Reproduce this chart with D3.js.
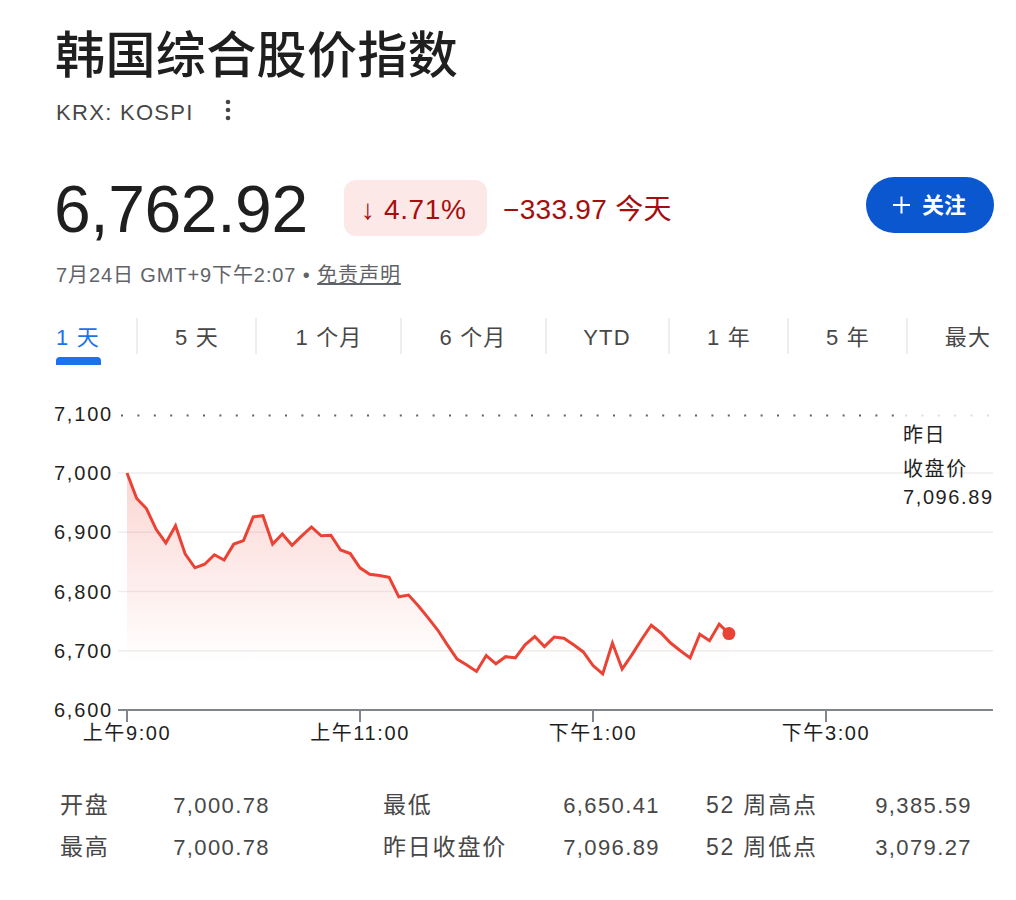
<!DOCTYPE html>
<html>
<head>
<meta charset="utf-8">
<script src="https://cdn.jsdelivr.net/npm/d3@7"></script>
<style>
  body { margin: 0; background: #fff; }
  svg { display: block; }
  text { font-family: Arial, "Liberation Sans", "Noto Sans CJK SC", sans-serif; }
</style>
</head>
<body>
<script>
// intraday points, 5 minute bars
var times = [
  "09:00","09:05","09:10","09:15","09:20","09:25","09:30","09:35","09:40","09:45","09:50","09:55",
  "10:00","10:05","10:10","10:15","10:20","10:25","10:30","10:35","10:40","10:45","10:50","10:55",
  "11:00","11:05","11:10","11:15","11:20","11:25","11:30","11:35","11:40","11:45","11:50","11:55",
  "12:00","12:05","12:10","12:15","12:20","12:25","12:30","12:35","12:40","12:45","12:50","12:55",
  "13:00","13:05","13:10","13:15","13:20","13:25","13:30","13:35","13:40","13:45","13:50","13:55",
  "14:00","14:05","14:10"
];
var prices = [
  7000, 6957, 6940, 6905, 6882, 6911, 6863, 6840, 6846, 6862, 6853, 6880,
  6886, 6926, 6928, 6880, 6897, 6878, 6894, 6909, 6894, 6895, 6870, 6864,
  6840, 6829, 6827, 6824, 6791, 6794, 6776, 6756, 6735, 6710, 6686, 6676,
  6665, 6692, 6678, 6690, 6688, 6710, 6724, 6707, 6723, 6721, 6710, 6698,
  6675, 6661, 6713, 6669, 6693, 6719, 6743, 6730, 6713, 6700, 6688, 6728,
  6717, 6745, 6729
];
var prevClose = 7096.89;
var yTicks = [6600, 6700, 6800, 6900, 7000, 7100];
var xTicks = ["09:00", "11:00", "13:00", "15:00"];
var xTickLabels = ["上午9:00", "上午11:00", "下午1:00", "下午3:00"];
var tabs = ["1 天", "5 天", "1 个月", "6 个月", "YTD", "1 年", "5 年", "最大"];
var statLabels = [["开盘", "最高"], ["最低", "昨日收盘价"], ["52 周高点", "52 周低点"]];
var statValues = [["7,000.78", "7,000.78"], ["6,650.41", "7,096.89"], ["9,385.59", "3,079.27"]];

var width = 1016, height = 900;
var parseTime = d3.timeParse("%H:%M");
var data = times.map(function (t, i) { return { t: parseTime(t), v: prices[i] }; });

var svg = d3.select("body").append("svg")
    .attr("width", width)
    .attr("height", height);

// header
svg.append("text").attr("x", 55).attr("y", 73)
    .style("font-family", "'Noto Sans CJK SC', sans-serif")
    .style("font-size", "50px").style("font-weight", 500).style("letter-spacing", "0.4px")
    .attr("fill", "#1f1f1f").text("韩国综合股价指数");

svg.append("text").attr("x", 56).attr("y", 120)
    .style("font-size", "22px").style("letter-spacing", "1.3px")
    .attr("fill", "#474747").text("KRX: KOSPI");
[102, 110, 118].forEach(function (cy) {
    svg.append("circle").attr("cx", 228).attr("cy", cy).attr("r", 2.3).attr("fill", "#444746");
});

svg.append("text").attr("x", 54).attr("y", 232)
    .style("font-size", "66px").style("letter-spacing", "-0.4px")
    .attr("fill", "#1f1f1f").text("6,762.92");

svg.append("rect").attr("x", 344).attr("y", 180).attr("width", 143).attr("height", 56)
    .attr("rx", 12).attr("fill", "#fce8e6");
svg.append("text").attr("x", 361).attr("y", 219)
    .style("font-size", "28px").style("letter-spacing", "0.6px")
    .attr("fill", "#a50e0e").text("↓ 4.71%");
svg.append("text").attr("x", 503).attr("y", 219)
    .style("font-size", "28px").style("letter-spacing", "0.3px")
    .attr("fill", "#a50e0e").text("−333.97 今天");

svg.append("rect").attr("x", 866).attr("y", 177).attr("width", 128).attr("height", 56)
    .attr("rx", 28).attr("fill", "#0b57d0");
svg.append("path").attr("d", "M893,205H910M901.5,196.5V213.5")
    .attr("stroke", "#fff").attr("stroke-width", 2);
svg.append("text").attr("x", 922).attr("y", 213)
    .style("font-size", "22px").style("font-weight", 700)
    .attr("fill", "#fff").text("关注");

var dateLine = svg.append("text").attr("x", 56).attr("y", 282)
    .style("font-size", "20px").style("letter-spacing", "0.9px").attr("fill", "#5f6368");
dateLine.append("tspan").text("7月24日 GMT+9下午2:07 • ");
dateLine.append("tspan").style("text-decoration", "underline").text("免责声明");

// range tabs
var tabX = [78, 197, 329, 473, 607, 729, 848, 968];
var sepX = [137, 256, 401, 546, 669, 788, 907];
svg.selectAll(".tab").data(tabs).join("text")
    .attr("x", function (d, i) { return tabX[i]; })
    .attr("y", 345)
    .attr("text-anchor", "middle")
    .style("font-size", "22px").style("letter-spacing", "1.2px")
    .attr("fill", function (d, i) { return i === 0 ? "#1a73e8" : "#474747"; })
    .text(function (d) { return d; });
svg.selectAll(".sep").data(sepX).join("line")
    .attr("x1", function (d) { return d; }).attr("x2", function (d) { return d; })
    .attr("y1", 318).attr("y2", 354)
    .attr("stroke", "#dadce0");
svg.append("path").attr("d", "M56,365V361a4,4 0 0 1 4,-4H97a4,4 0 0 1 4,4V365Z")
    .attr("fill", "#1a73e8");

// chart
var x = d3.scaleTime()
    .domain([parseTime("09:00"), parseTime("16:26")])
    .range([127, 993]);
var y = d3.scaleLinear()
    .domain([6600, 7100])
    .range([710, 413.75]);

var plotLeft = 118, plotRight = 993;

svg.append("g").selectAll("line")
    .data(yTicks.filter(function (d) { return d > 6600 && d < 7100; }))
    .join("line")
    .attr("x1", plotLeft).attr("x2", plotRight)
    .attr("y1", function (d) { return y(d); }).attr("y2", function (d) { return y(d); })
    .attr("stroke", "#eeeeee").attr("stroke-width", 1.5);

svg.append("g").selectAll("text").data(yTicks).join("text")
    .attr("x", 113).attr("y", function (d) { return y(d) + 7; })
    .attr("text-anchor", "end")
    .style("font-size", "20px").style("letter-spacing", "1.8px")
    .attr("fill", "#1f1f1f")
    .text(d3.format(","));

// previous close reference line
svg.append("line")
    .attr("x1", 121).attr("x2", 905)
    .attr("y1", y(prevClose)).attr("y2", y(prevClose))
    .attr("stroke", "#5f6368").attr("stroke-width", 2)
    .attr("stroke-dasharray", "2,14.4");
svg.append("line")
    .attr("x1", 905).attr("x2", 990)
    .attr("y1", y(prevClose)).attr("y2", y(prevClose))
    .attr("stroke", "#dadce0").attr("stroke-width", 2)
    .attr("stroke-dasharray", "2,14.4");

var defs = svg.append("defs");
var grad = defs.append("linearGradient").attr("id", "fade")
    .attr("gradientUnits", "userSpaceOnUse")
    .attr("x1", 0).attr("x2", 0)
    .attr("y1", y(7000)).attr("y2", y(6680));
grad.append("stop").attr("offset", 0).attr("stop-color", "#ea4335").attr("stop-opacity", 0.22);
grad.append("stop").attr("offset", 1).attr("stop-color", "#ea4335").attr("stop-opacity", 0);

svg.append("path").datum(data)
    .attr("fill", "url(#fade)")
    .attr("d", d3.area()
        .x(function (d) { return x(d.t); })
        .y0(y(6600))
        .y1(function (d) { return y(d.v); }));

svg.append("path").datum(data)
    .attr("fill", "none")
    .attr("stroke", "#ea4335")
    .attr("stroke-width", 3)
    .attr("stroke-linejoin", "miter")
    .attr("d", d3.line()
        .x(function (d) { return x(d.t); })
        .y(function (d) { return y(d.v); }));

var last = data[data.length - 1];
svg.append("circle").attr("cx", x(last.t)).attr("cy", y(last.v)).attr("r", 6.5)
    .attr("fill", "#ea4335");

// x axis
svg.append("line").attr("x1", plotLeft).attr("x2", plotRight)
    .attr("y1", 710).attr("y2", 710)
    .attr("stroke", "#80868b").attr("stroke-width", 2);
var xAxis = svg.append("g").selectAll("g").data(xTicks).join("g")
    .attr("transform", function (d) { return "translate(" + x(parseTime(d)) + ",0)"; });
xAxis.append("line").attr("y1", 710).attr("y2", 722)
    .attr("stroke", "#80868b").attr("stroke-width", 2);
xAxis.append("text").attr("y", 740).attr("text-anchor", "middle")
    .style("font-size", "20px").style("letter-spacing", "1.6px")
    .attr("fill", "#1f1f1f")
    .text(function (d, i) { return xTickLabels[i]; });

// previous close label
var pcLabel = ["昨日", "收盘价", d3.format(",.2f")(prevClose)];
svg.append("g").selectAll("text").data(pcLabel).join("text")
    .attr("x", 903)
    .attr("y", function (d, i) { return [442, 476, 504][i]; })
    .style("font-size", "20px").style("letter-spacing", "1.6px")
    .attr("fill", "#1f1f1f")
    .text(function (d) { return d; });

// key stats
var labelX = [60, 383, 706], valueX = [270, 660, 972], rowY = [813, 855];
statLabels.forEach(function (col, c) {
    col.forEach(function (lab, r) {
        svg.append("text").attr("x", labelX[c]).attr("y", rowY[r])
            .style("font-size", "23px").style("letter-spacing", "1.8px")
            .attr("fill", "#474747").text(lab);
        svg.append("text").attr("x", valueX[c]).attr("y", rowY[r])
            .attr("text-anchor", "end")
            .style("font-size", "22px").style("letter-spacing", "1.4px")
            .attr("fill", "#474747").text(statValues[c][r]);
    });
});
</script>
</body>
</html>
